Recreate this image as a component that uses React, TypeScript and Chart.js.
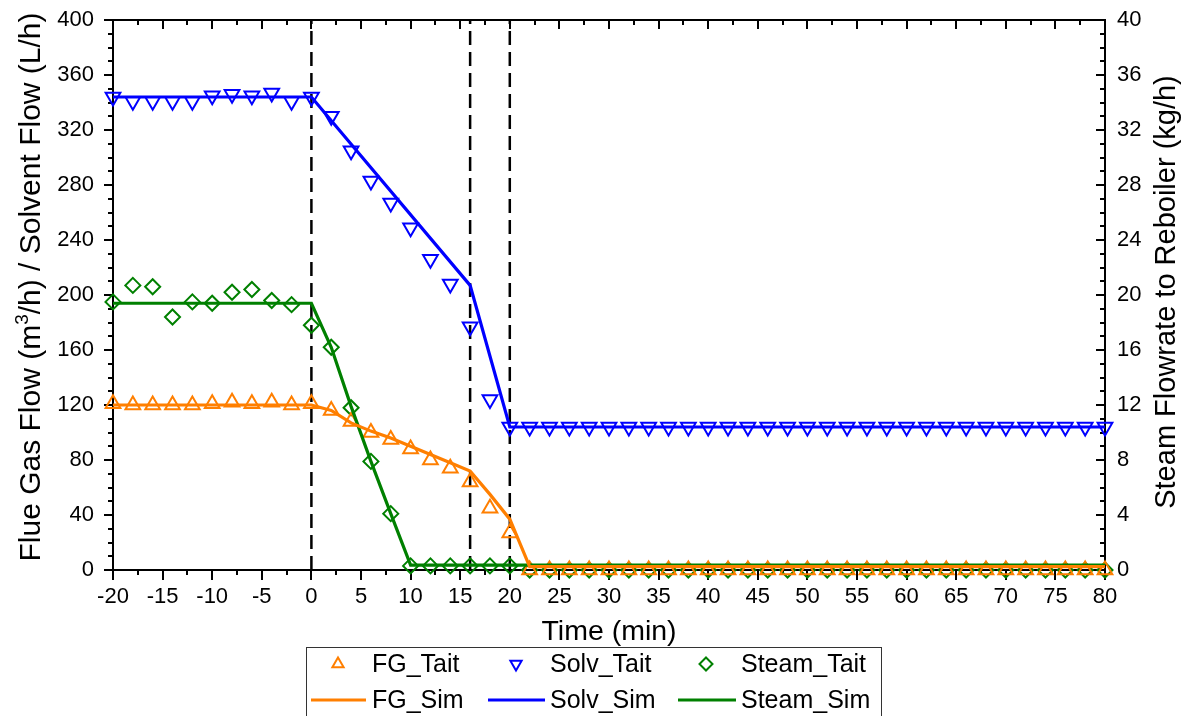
import { useEffect, useRef } from "react";
import { Chart, registerables } from "chart.js";
Chart.register(...registerables);

const FONT = "'Liberation Sans', Arial, Helvetica, sans-serif";
const ORANGE = "#FF7F00";
const BLUE = "#0000FF";
const GREEN = "#008000";

// Measured (Tait) series, sampled every 2 min
const timeTait = [
  -20, -18, -16, -14, -12, -10, -8, -6, -4, -2, 0, 2, 4, 6, 8, 10, 12, 14, 16, 18, 20,
  22, 24, 26, 28, 30, 32, 34, 36, 38, 40, 42, 44, 46, 48, 50, 52, 54, 56, 58, 60,
  62, 64, 66, 68, 70, 72, 74, 76, 78, 80,
];
const fgTait = [
  121, 120, 120, 120, 120, 121, 122, 121, 122, 120, 121, 116, 108, 100, 95, 88, 80, 74, 64, 45, 27,
  0, 0, 0, 0, 0, 0, 0, 0, 0, 0, 0, 0, 0, 0, 0, 0, 0, 0, 0, 0,
  0, 0, 0, 0, 0, 0, 0, 0, 0, 0,
];
const solvTait = [
  344, 341, 341, 341, 341, 345, 346, 345, 347, 341, 344, 330, 305, 283, 267, 249, 226, 208, 177, 124, 104,
  104, 104, 104, 104, 104, 104, 104, 104, 104, 104, 104, 104, 104, 104, 104, 104, 104, 104, 104, 104,
  104, 104, 104, 104, 104, 104, 104, 104, 104, 104,
];
const steamTait = [
  19.5, 20.7, 20.6, 18.4, 19.5, 19.4, 20.2, 20.4, 19.6, 19.3, 17.8, 16.2, 11.8, 7.9, 4.1, 0.3, 0.3, 0.3, 0.3, 0.3, 0.3,
  0, 0, 0, 0, 0, 0, 0, 0, 0, 0, 0, 0, 0, 0, 0, 0, 0, 0, 0, 0,
  0, 0, 0, 0, 0, 0, 0, 0, 0, 0,
];

// Simulated series
const fgSimTime = [-20, 0, 2, 4, 6, 8, 10, 12, 14, 16, 18, 20, 22, 80];
const fgSim = [120, 120, 116, 107, 101, 96, 90, 84, 78, 72, 55, 37, 2.5, 2.5];
const solvSimTime = [-20, 0, 16, 20, 80];
const solvSim = [344, 344, 207, 104, 104];
const steamSimTime = [-20, 0, 2, 4, 6, 8, 10, 80];
const steamSim = [19.4, 19.4, 16.2, 11.9, 7.9, 4.1, 0.35, 0.35];

// Event markers (vertical dashed lines)
const eventTimes = [0, 16, 20];

// Axis ranges / ticks
const xMin = -20, xMax = 80, xStep = 5, xMinor = 2.5;
const yMin = 0, yMax = 400, yStep = 40, yMinor = 10;
const y1Min = 0, y1Max = 40, y1Step = 4;

const legendItems = [
  { label: "FG_Tait", kind: "marker", style: "triangle", rot: 0, color: ORANGE, col: 0, row: 0 },
  { label: "Solv_Tait", kind: "marker", style: "triangle", rot: 180, color: BLUE, col: 1, row: 0 },
  { label: "Steam_Tait", kind: "marker", style: "rectRot", rot: 0, color: GREEN, col: 2, row: 0 },
  { label: "FG_Sim", kind: "line", color: ORANGE, col: 0, row: 1 },
  { label: "Solv_Sim", kind: "line", color: BLUE, col: 1, row: 1 },
  { label: "Steam_Sim", kind: "line", color: GREEN, col: 2, row: 1 },
];

const pts = (xs: number[], ys: number[]) => xs.map((x, i) => ({ x, y: ys[i] }));

const framePlugin = {
  id: "frame",
  beforeDatasetsDraw(chart: any) {
    const { ctx, chartArea: a, scales } = chart;
    const xs = scales.x, ys = scales.y;
    ctx.save();
    ctx.strokeStyle = "#000";
    ctx.lineWidth = 2;
    ctx.beginPath();
    ctx.rect(a.left, a.top, a.right - a.left, a.bottom - a.top);
    ctx.stroke();
    ctx.beginPath();
    for (let v = xMin; v <= xMax + 1e-9; v += xMinor) {
      const major = Math.abs(v / xStep - Math.round(v / xStep)) < 1e-6;
      const px = Math.round(xs.getPixelForValue(v));
      ctx.moveTo(px, a.bottom);
      ctx.lineTo(px, a.bottom + (major ? 10 : 5));
      ctx.moveTo(px, a.top);
      ctx.lineTo(px, a.top + (major ? 9 : 5));
    }
    for (let v = yMin; v <= yMax + 1e-9; v += yMinor) {
      const major = Math.abs(v / yStep - Math.round(v / yStep)) < 1e-6;
      const py = Math.round(ys.getPixelForValue(v));
      const len = major ? 9 : 5;
      ctx.moveTo(a.left, py);
      ctx.lineTo(a.left - len, py);
      ctx.moveTo(a.right, py);
      ctx.lineTo(a.right - len, py);
    }
    ctx.stroke();
    ctx.restore();
  },
  afterDraw(chart: any) {
    const { ctx, chartArea: a } = chart;
    ctx.save();
    ctx.fillStyle = "#000";
    ctx.font = `28.5px ${FONT}`;
    ctx.textAlign = "center";
    ctx.textBaseline = "alphabetic";
    ctx.fillText("Time (min)", (a.left + a.right) / 2, 640);

    const p1 = "Flue Gas Flow (m";
    const sup = "3";
    const p2 = "/h) / Solvent Flow (L/h)";
    ctx.font = `30px ${FONT}`;
    const w1 = ctx.measureText(p1).width;
    const w2 = ctx.measureText(p2).width;
    ctx.font = `19px ${FONT}`;
    const ws = ctx.measureText(sup).width;
    const total = w1 + ws + w2;
    ctx.save();
    ctx.translate(40, 287);
    ctx.rotate(-Math.PI / 2);
    ctx.textAlign = "left";
    ctx.font = `30px ${FONT}`;
    ctx.fillText(p1, -total / 2, 0);
    ctx.font = `19px ${FONT}`;
    ctx.fillText(sup, -total / 2 + w1, -12);
    ctx.font = `30px ${FONT}`;
    ctx.fillText(p2, -total / 2 + w1 + ws, 0);
    ctx.restore();

    ctx.save();
    ctx.translate(1175, 292);
    ctx.rotate(-Math.PI / 2);
    ctx.textAlign = "center";
    ctx.font = `29px ${FONT}`;
    ctx.fillText("Steam Flowrate to Reboiler (kg/h)", 0, 0);
    ctx.restore();

    ctx.strokeStyle = "#333";
    ctx.lineWidth = 1;
    ctx.strokeRect(306.5, 647.5, 575, 80);
    const colMarker = [338, 516, 706];
    const colLine = [[311, 366], [488, 545], [678, 736]];
    const colText = [372, 550, 741];
    const rowY = [664, 700];
    ctx.font = `25px ${FONT}`;
    ctx.textAlign = "left";
    ctx.textBaseline = "middle";
    for (const it of legendItems) {
      const y = rowY[it.row];
      if (it.kind === "marker") {
        ctx.save();
        ctx.strokeStyle = it.color;
        ctx.lineWidth = 2;
        ctx.beginPath();
        const cx = colMarker[it.col];
        if (it.style === "triangle") {
          const r = 6.5;
          const s = it.rot ? -1 : 1;
          ctx.moveTo(cx, y - s * r);
          ctx.lineTo(cx + r * 0.866, y + s * r * 0.5);
          ctx.lineTo(cx - r * 0.866, y + s * r * 0.5);
          ctx.closePath();
        } else {
          const r = 6.5;
          ctx.moveTo(cx, y - r);
          ctx.lineTo(cx + r, y);
          ctx.lineTo(cx, y + r);
          ctx.lineTo(cx - r, y);
          ctx.closePath();
        }
        ctx.stroke();
        ctx.restore();
      } else {
        ctx.save();
        ctx.strokeStyle = it.color;
        ctx.lineWidth = 3;
        ctx.beginPath();
        ctx.moveTo(colLine[it.col][0], y);
        ctx.lineTo(colLine[it.col][1], y);
        ctx.stroke();
        ctx.restore();
      }
      ctx.fillStyle = "#000";
      ctx.fillText(it.label, colText[it.col], y + 1);
    }
    ctx.restore();
  },
};

export default function App() {
  const ref = useRef<HTMLCanvasElement | null>(null);
  useEffect(() => {
    if (!ref.current) return;
    const markerBase = {
      showLine: false,
      pointBorderWidth: 2,
      pointBackgroundColor: "rgba(0,0,0,0)",
      clip: false as any,
      order: 1,
    };
    const lineBase = {
      pointRadius: 0,
      borderWidth: 3.2,
      tension: 0,
      fill: false,
      clip: false as any,
      order: 0,
    };
    const datasets: any[] = [
      ...eventTimes.map((t) => ({
        label: "event",
        data: [{ x: t, y: yMin }, { x: t, y: yMax }],
        borderColor: "#000",
        borderWidth: 2.5,
        borderDash: [14, 7],
        pointRadius: 0,
        yAxisID: "y",
        order: 2,
      })),
      { ...markerBase, label: "FG_Tait", data: pts(timeTait, fgTait), pointStyle: "triangle", pointRadius: 8.5, pointBorderColor: ORANGE, borderColor: ORANGE, yAxisID: "y" },
      { ...markerBase, label: "Solv_Tait", data: pts(timeTait, solvTait), pointStyle: "triangle", pointRotation: 180, pointRadius: 8.5, pointBorderColor: BLUE, borderColor: BLUE, yAxisID: "y" },
      { ...markerBase, label: "Steam_Tait", data: pts(timeTait, steamTait), pointStyle: "rectRot", pointRadius: 7.5, pointBorderColor: GREEN, borderColor: GREEN, yAxisID: "y1" },
      { ...lineBase, label: "FG_Sim", data: pts(fgSimTime, fgSim), borderColor: ORANGE, yAxisID: "y" },
      { ...lineBase, label: "Solv_Sim", data: pts(solvSimTime, solvSim), borderColor: BLUE, yAxisID: "y" },
      { ...lineBase, label: "Steam_Sim", data: pts(steamSimTime, steamSim), borderColor: GREEN, yAxisID: "y1" },
    ];
    const tickFont = { family: FONT, size: 22 };
    const fitY = (w: number) => (s: any) => {
      s.width = w;
      s.paddingTop = 0;
      s.paddingBottom = 0;
    };
    const chart = new Chart(ref.current, {
      type: "line",
      data: { datasets },
      plugins: [framePlugin],
      options: {
        animation: false,
        responsive: true,
        maintainAspectRatio: false,
        layout: { padding: { top: 20, left: 0, right: 0, bottom: 0 } },
        plugins: { legend: { display: false }, tooltip: { enabled: false } },
        scales: {
          x: {
            type: "linear",
            position: "bottom",
            min: xMin,
            max: xMax,
            ticks: { stepSize: xStep, font: tickFont, color: "#000", padding: 14, maxRotation: 0, autoSkip: false },
            grid: { display: false, drawTicks: false },
            border: { display: false },
            afterFit: (s: any) => {
              s.height = 146;
              s.paddingLeft = 0;
              s.paddingRight = 0;
            },
          },
          y: {
            type: "linear",
            position: "left",
            min: yMin,
            max: yMax,
            ticks: { stepSize: yStep, font: tickFont, color: "#000", padding: 19 },
            grid: { display: false, drawTicks: false },
            border: { display: false },
            afterFit: fitY(113),
          },
          y1: {
            type: "linear",
            position: "right",
            min: y1Min,
            max: y1Max,
            ticks: { stepSize: y1Step, font: tickFont, color: "#000", padding: 12 },
            grid: { display: false, drawTicks: false },
            border: { display: false },
            afterFit: fitY(83),
          },
        },
      },
    });
    return () => chart.destroy();
  }, []);
  return (
    <div style={{ position: "fixed", left: 0, top: 0, width: 1188, height: 716, background: "#fff" }}>
      <canvas ref={ref} />
    </div>
  );
}
